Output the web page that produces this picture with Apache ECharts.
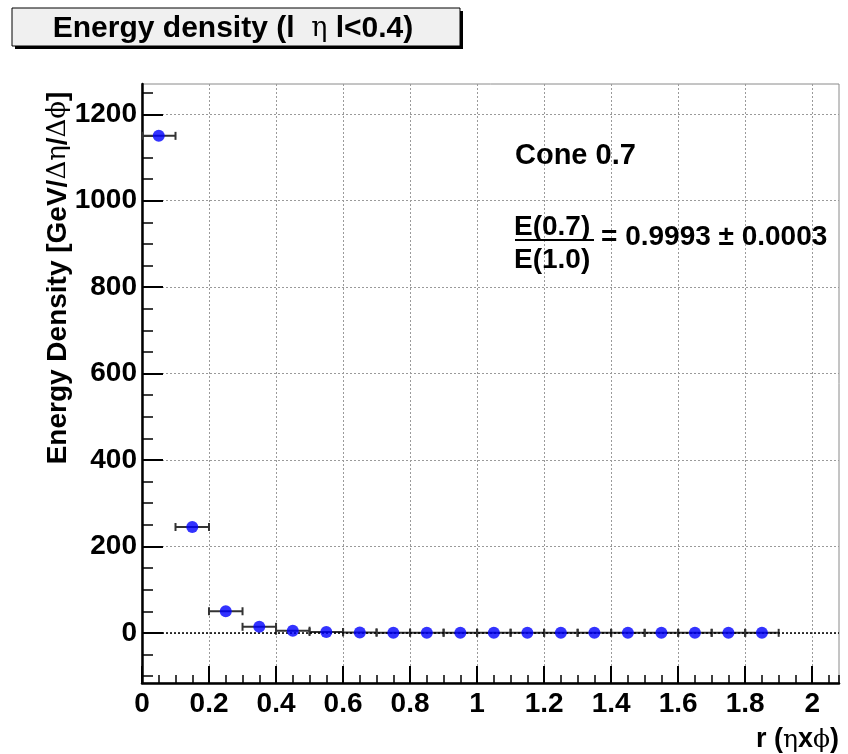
<!DOCTYPE html>
<html>
<head>
<meta charset="utf-8">
<script src="https://cdn.jsdelivr.net/npm/echarts@6/dist/echarts.min.js"></script>
<style>
  html, body { margin: 0; padding: 0; background: #ffffff; }
  #chart { width: 848px; height: 754px; }
</style>
</head>
<body>
<div id="chart"></div>
<script>
// Bin centres in r (eta x phi), bin half-widths, and energy density per bin
const rCenters = [0.05, 0.15, 0.25, 0.35, 0.45, 0.55, 0.65, 0.75, 0.85, 0.95,
                  1.05, 1.15, 1.25, 1.35, 1.45, 1.55, 1.65, 1.75, 1.85];
const rHalfWidth = [0.05, 0.05, 0.05, 0.05, 0.05, 0.05, 0.05, 0.05, 0.05, 0.05,
                    0.05, 0.05, 0.05, 0.05, 0.05, 0.05, 0.05, 0.05, 0.05];
const energyDensity = [1150, 245, 50, 14, 5, 2, 1, 0.5, 0.4, 0.3,
                       0.3, 0.2, 0.2, 0.2, 0.1, 0.1, 0.1, 0.1, 0.1];

// Axis tick positions and labels
const xMajorTicks = [0, 0.2, 0.4, 0.6, 0.8, 1, 1.2, 1.4, 1.6, 1.8, 2];
const yMajorTicks = [0, 200, 400, 600, 800, 1000, 1200];
const yMinorTicks = [-100, -50, 0, 50, 100, 150, 200, 250, 300, 350, 400, 450, 500, 550,
                     600, 650, 700, 750, 800, 850, 900, 950, 1000, 1050, 1100, 1150, 1200, 1250];

const X_MIN = 0, X_MAX = 2.08;
const Y_MIN = -116, Y_MAX = 1270;

const FONT = '"Liberation Sans", Arial, Helvetica, sans-serif';
const SYMBOL_FONT = '"DejaVu Serif", "Liberation Serif", serif';

const chart = echarts.init(document.getElementById('chart'), null, { renderer: 'canvas' });

const pointData = rCenters.map((r, i) => [r, energyDensity[i]]);
const errData = rCenters.map((r, i) => [r, energyDensity[i], rHalfWidth[i]]);

const gridLine = { show: true, lineStyle: { color: '#9a9a9a', width: 1, type: [2, 2] } };
const plainNumber = v => String(v);

const option = {
  backgroundColor: '#ffffff',
  animation: false,
  grid: {
    left: 142, top: 84, right: 9, bottom: 71,
    show: true, borderColor: '#8a8a8a', borderWidth: 1, backgroundColor: 'transparent'
  },
  xAxis: [
    {
      type: 'value', min: X_MIN, max: X_MAX, position: 'bottom',
      axisLine: { show: true, onZero: false, lineStyle: { color: '#000', width: 2.5 } },
      axisTick: { show: true, inside: true, length: 17, customValues: xMajorTicks,
                  lineStyle: { color: '#000', width: 2 } },
      axisLabel: { show: true, customValues: xMajorTicks, margin: 7, color: '#000',
                   formatter: plainNumber,
                   fontFamily: FONT, fontWeight: 'bold', fontSize: 28 },
      splitLine: gridLine
    },
    {
      type: 'value', min: X_MIN, max: X_MAX, position: 'bottom', interval: 0.05,
      axisLine: { show: false, onZero: false },
      axisTick: { show: true, inside: true, length: 8, lineStyle: { color: '#000', width: 1.5 } },
      axisLabel: { show: false },
      splitLine: { show: false }
    }
  ],
  yAxis: [
    {
      type: 'value', min: Y_MIN, max: Y_MAX, position: 'left',
      axisLine: { show: true, onZero: false, lineStyle: { color: '#000', width: 2.5 } },
      axisTick: { show: true, inside: true, length: 21, customValues: yMajorTicks,
                  lineStyle: { color: '#000', width: 2 } },
      axisLabel: { show: true, customValues: yMajorTicks, margin: 5, color: '#000',
                   formatter: plainNumber,
                   fontFamily: FONT, fontWeight: 'bold', fontSize: 28 },
      splitLine: gridLine
    },
    {
      type: 'value', min: Y_MIN, max: Y_MAX, position: 'left',
      axisLine: { show: false, onZero: false },
      axisTick: { show: true, inside: true, length: 11, customValues: yMinorTicks,
                  lineStyle: { color: '#000', width: 1.5 } },
      axisLabel: { show: false },
      splitLine: { show: false }
    }
  ],
  series: [
    {
      name: 'errors',
      type: 'custom',
      xAxisIndex: 0, yAxisIndex: 0,
      data: errData,
      z: 3,
      renderItem: function (params, api) {
        const x = api.value(0), y = api.value(1), e = api.value(2);
        const a = api.coord([x - e, y]);
        const b = api.coord([x + e, y]);
        const cap = 4;
        const style = { stroke: '#333', lineWidth: 2 };
        return {
          type: 'group',
          children: [
            { type: 'line', shape: { x1: a[0], y1: a[1], x2: b[0], y2: b[1] }, style: style },
            { type: 'line', shape: { x1: a[0], y1: a[1] - cap, x2: a[0], y2: a[1] + cap }, style: style },
            { type: 'line', shape: { x1: b[0], y1: b[1] - cap, x2: b[0], y2: b[1] + cap }, style: style }
          ]
        };
      },
      markLine: {
        silent: true, symbol: ['none', 'none'], label: { show: false },
        lineStyle: { color: '#000', width: 1.5, type: [2, 2] },
        data: [{ yAxis: 0 }]
      }
    },
    {
      name: 'energy',
      type: 'scatter',
      xAxisIndex: 0, yAxisIndex: 0,
      data: pointData,
      symbol: 'circle', symbolSize: 12,
      itemStyle: { color: '#0000ff' },
      z: 5
    }
  ],
  graphic: [
    // title box with drop shadow
    { type: 'rect', shape: { x: 15, y: 11, width: 448, height: 38 }, style: { fill: '#000' }, z: 10 },
    { type: 'rect', shape: { x: 12, y: 8, width: 448, height: 38 },
      style: { fill: '#f0f0f0', stroke: '#000', lineWidth: 1 }, z: 11 },
    { type: 'text', x: 233, y: 29, z: 12,
      style: {
        text: '{a|Energy density (l  }{b|η}{a| l<0.4)}',
        align: 'center', verticalAlign: 'middle',
        rich: {
          a: { fontFamily: FONT, fontWeight: 'bold', fontSize: 30, fill: '#000' },
          b: { fontFamily: SYMBOL_FONT, fontSize: 27, fill: '#000' }
        }
      }
    },
    // y axis title
    { type: 'text', x: 58, y: 278, rotation: Math.PI / 2, z: 12,
      style: {
        text: '{a|Energy Density [GeV/}{b|Δη}{a|/}{b|Δϕ}{a|]}',
        align: 'center', verticalAlign: 'middle',
        rich: {
          a: { fontFamily: FONT, fontWeight: 'bold', fontSize: 28, fill: '#000' },
          b: { fontFamily: SYMBOL_FONT, fontSize: 26, fill: '#000' }
        }
      }
    },
    // x axis title
    { type: 'text', x: 839, y: 740, z: 12,
      style: {
        text: '{a|r (}{b|η}{a|x}{b|ϕ}{a|)}',
        align: 'right', verticalAlign: 'middle',
        rich: {
          a: { fontFamily: FONT, fontWeight: 'bold', fontSize: 27, fill: '#000' },
          b: { fontFamily: SYMBOL_FONT, fontSize: 25, fill: '#000' }
        }
      }
    },
    // annotations
    { type: 'text', x: 515, y: 156, z: 12,
      style: { text: 'Cone 0.7', fontFamily: FONT, fontWeight: 'bold', fontSize: 29,
               fill: '#000', align: 'left', verticalAlign: 'middle' } },
    { type: 'text', x: 514, y: 227, z: 12,
      style: { text: 'E(0.7)', fontFamily: FONT, fontWeight: 'bold', fontSize: 28,
               fill: '#000', align: 'left', verticalAlign: 'middle' } },
    { type: 'line', z: 12, shape: { x1: 515, y1: 240, x2: 594, y2: 240 },
      style: { stroke: '#000', lineWidth: 2 } },
    { type: 'text', x: 514, y: 260, z: 12,
      style: { text: 'E(1.0)', fontFamily: FONT, fontWeight: 'bold', fontSize: 28,
               fill: '#000', align: 'left', verticalAlign: 'middle' } },
    { type: 'text', x: 601, y: 237, z: 12,
      style: { text: '= 0.9993 ± 0.0003', fontFamily: FONT, fontWeight: 'bold', fontSize: 28,
               fill: '#000', align: 'left', verticalAlign: 'middle' } }
  ]
};

chart.setOption(option);
</script>
</body>
</html>
